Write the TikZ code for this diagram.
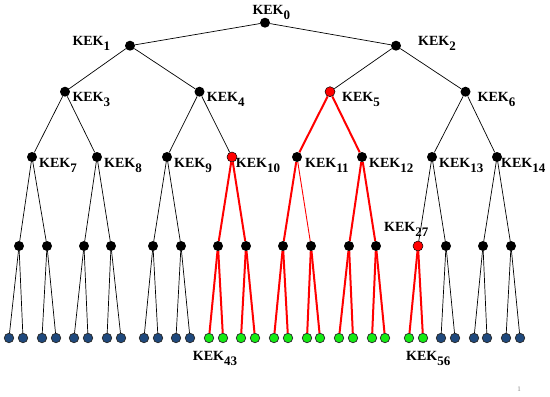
\documentclass[tikz,border=0pt]{standalone}
\usepackage{fontspec}
\setmainfont{Liberation Serif}
\definecolor{leafblue}{RGB}{31,73,125}
\definecolor{leafgreen}{RGB}{20,235,20}
\newcommand{\kek}[1]{KEK\raisebox{-5pt}{\fontsize{13}{13}\selectfont #1}}
\begin{document}
\begin{tikzpicture}[x=1pt,y=-1pt,
  dot/.style={circle,fill=black,inner sep=0pt,minimum size=10pt},
  reddot/.style={circle,fill=red,draw=black,line width=0.5pt,inner sep=0pt,minimum size=10pt},
  leafb/.style={circle,fill=leafblue,draw=black!85,line width=0.7pt,inner sep=0pt,minimum size=9.5pt},
  leafg/.style={circle,fill=leafgreen,draw=black!85,line width=0.7pt,inner sep=0pt,minimum size=9.5pt},
  lbl/.style={anchor=base west,inner sep=0pt,font=\fontsize{14}{14}\selectfont\bfseries},
  blk/.style={black,line width=0.7pt},
  rd/.style={red,line width=2pt},
  thinrd/.style={red,line width=0.9pt}]
\useasboundingbox (0,0) rectangle (550,397);
% tree nodes (heap numbering)
\node[dot] (n0) at (265,22.7) {};
\node[dot] (n1) at (130,45.7) {};
\node[dot] (n2) at (396,45.7) {};
\node[dot] (n3) at (65,91.7) {};
\node[dot] (n4) at (199.5,91.7) {};
\node[reddot] (n5) at (330,91.7) {};
\node[dot] (n6) at (465.5,91.7) {};
\foreach \x [count=\i from 7] in {32,97,167,232,297,362,432,497}{
  \ifnum\i=10 \node[reddot] (n\i) at (\x,157) {};
  \else \node[dot] (n\i) at (\x,157) {};\fi
}
\foreach \x [count=\i from 15] in {19,47,84,111,153,181,218,246,283,311,349,376,418,446,483,511}{
  \ifnum\i=27 \node[reddot] (n\i) at (\x,246) {};
  \else \node[dot] (n\i) at (\x,246) {};\fi
}
\foreach \x [count=\i from 31] in {9,23,42,56,74,88,107,121,144,158,176,190,209,223,241,255,274,288,307,320,339,353,372,385,409,423,441,455,474,487,506,520}{
  \ifnum\i>42 \ifnum\i<57 \node[leafg] (n\i) at (\x,338) {};
    \else \node[leafb] (n\i) at (\x,338) {};\fi
  \else \node[leafb] (n\i) at (\x,338) {};\fi
}
% connectors
\foreach \i in {1,...,10}{\pgfmathtruncatemacro{\p}{(\i-1)/2}\draw[blk] (n\p) -- (n\i);}
\foreach \i in {13,...,20}{\pgfmathtruncatemacro{\p}{(\i-1)/2}\draw[blk] (n\p) -- (n\i);}
\foreach \i in {27,...,42}{\pgfmathtruncatemacro{\p}{(\i-1)/2}\draw[blk] (n\p) -- (n\i);}
\foreach \i in {57,...,62}{\pgfmathtruncatemacro{\p}{(\i-1)/2}\draw[blk] (n\p) -- (n\i);}
\foreach \i in {11,12,21,22,23,25,26}{\pgfmathtruncatemacro{\p}{(\i-1)/2}\draw[rd] (n\p) -- (n\i);}
\foreach \i in {43,...,56}{\pgfmathtruncatemacro{\p}{(\i-1)/2}\draw[rd] (n\p) -- (n\i);}
\draw[thinrd] (n11) -- (n24);
% labels
\node[lbl] (l0) at (252.3,14) {\kek{0}};
\node[lbl] (l1) at (72.3,45.7) {\kek{1}};
\node[lbl] (l2) at (418,45.7) {\kek{2}};
\node[lbl] (l3) at (72.3,101.7) {\kek{3}};
\node[lbl] (l4) at (206.7,101.7) {\kek{4}};
\node[lbl] (l5) at (342,101.7) {\kek{5}};
\node[lbl] (l6) at (477.5,101.7) {\kek{6}};
\foreach \x [count=\i from 7] in {39,104,174,235.7,305,369,439,501}{
  \node[lbl] (l\i) at (\x,167.7) {\kek{\i}};
}
\node[lbl] (l27) at (384,231.7) {\kek{27}};
\node[lbl] (l43) at (192.7,360.7) {\kek{43}};
\node[lbl] (l56) at (406,360.7) {\kek{56}};
\node[font=\fontsize{7}{7}\selectfont,text=gray,inner sep=0pt] (pg) at (519,389) {1};
\end{tikzpicture}
\end{document}
